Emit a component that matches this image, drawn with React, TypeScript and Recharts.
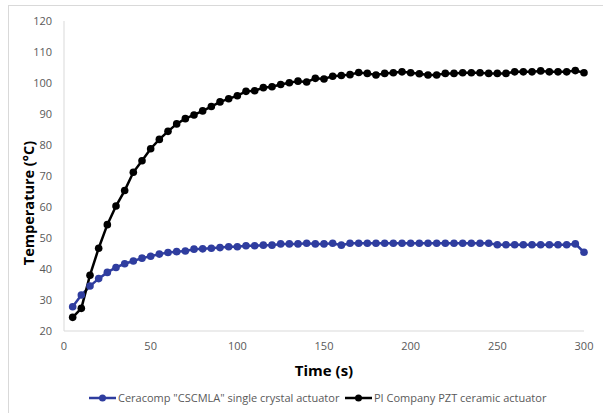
import React from 'react'
import { LineChart, Line, XAxis, YAxis } from 'recharts'

const times = [
  5, 10, 15, 20, 25, 30, 35, 40, 45, 50, 55, 60, 65, 70, 75, 80, 85, 90, 95, 100,
  105, 110, 115, 120, 125, 130, 135, 140, 145, 150, 155, 160, 165, 170, 175, 180, 185, 190, 195, 200,
  205, 210, 215, 220, 225, 230, 235, 240, 245, 250, 255, 260, 265, 270, 275, 280, 285, 290, 295, 300,
]

const ceracomp = [
  27.8, 31.6, 34.5, 36.9, 38.9, 40.5, 41.7, 42.6, 43.5, 44.1, 44.8, 45.3, 45.6, 45.8, 46.4, 46.5, 46.7, 46.9, 47.2, 47.2,
  47.5, 47.5, 47.7, 47.7, 48.1, 48.1, 48.1, 48.3, 48.1, 48.1, 48.3, 47.7, 48.3, 48.3, 48.3, 48.3, 48.3, 48.3, 48.3, 48.3,
  48.3, 48.3, 48.3, 48.3, 48.3, 48.3, 48.3, 48.3, 48.3, 47.8, 47.8, 47.8, 47.8, 47.8, 47.8, 47.8, 47.8, 47.8, 48.1, 45.4,
]

const piPzt = [
  24.4, 27.3, 38.0, 46.7, 54.3, 60.3, 65.3, 71.2, 74.9, 78.8, 81.8, 84.4, 86.8, 88.5, 89.7, 91.0, 92.4, 93.9, 94.9, 95.9,
  97.3, 97.5, 98.5, 98.8, 99.5, 100.1, 100.6, 100.3, 101.5, 101.3, 102.2, 102.4, 102.7, 103.4, 103.1, 102.6, 103.1, 103.3, 103.6, 103.3,
  103.0, 102.6, 102.6, 103.1, 103.1, 103.3, 103.3, 103.3, 103.1, 103.1, 103.1, 103.6, 103.6, 103.6, 103.9, 103.6, 103.6, 103.6, 104.0, 103.3,
]

const xTicks = [0, 50, 100, 150, 200, 250, 300]
const yTicks = [20, 30, 40, 50, 60, 70, 80, 90, 100, 110, 120]

const BLUE = '#2f3d9f'
const BLACK = '#000000'
const GRAY = '#595959'
const FONT = '"Open Sans", "Noto Sans", sans-serif'

const data = times.map((t, i) => ({ time: t, ceracomp: ceracomp[i], pi: piPzt[i] }))

function LegendItem({ color, label }: { color: string; label: string }) {
  return (
    <div style={{ display: 'flex', alignItems: 'center' }}>
      <svg width={27} height={10} style={{ marginRight: 2 }}>
        <line x1={0} y1={5} x2={27} y2={5} stroke={color} strokeWidth={2.5} />
        <circle cx={13.5} cy={5} r={3.5} fill={color} />
      </svg>
      <span style={{ fontFamily: FONT, fontSize: 11, color: GRAY, whiteSpace: 'nowrap' }}>{label}</span>
    </div>
  )
}

export default function App() {
  return (
    <div style={{ position: 'absolute', left: 0, top: 0, width: 603, height: 413, background: '#fff', overflow: 'hidden' }}>
      {/* chart frame (only left and top edges are visible) */}
      <div style={{
        position: 'absolute', left: 8, top: 5, width: 600, height: 420,
        borderLeft: '1px solid #d9d9d9', borderTop: '1px solid #d9d9d9'
      }} />

      <LineChart width={603} height={413} data={data} margin={{ top: 21, right: 19, bottom: 0, left: 0 }}>
        <XAxis
          dataKey="time"
          type="number"
          domain={[0, 300]}
          ticks={xTicks}
          tickLine={false}
          axisLine={{ stroke: '#d9d9d9', strokeWidth: 1 }}
          tick={{ fill: GRAY, fontSize: 11, fontFamily: FONT }}
          tickMargin={5}
          height={82}
        />
        <YAxis
          type="number"
          domain={[20, 120]}
          ticks={yTicks}
          tickLine={false}
          axisLine={{ stroke: '#d9d9d9', strokeWidth: 1 }}
          tick={{ fill: GRAY, fontSize: 11, fontFamily: FONT }}
          tickMargin={6}
          width={64}
        />
        <Line
          dataKey="ceracomp"
          stroke={BLUE}
          strokeWidth={2.5}
          dot={{ r: 3.8, fill: BLUE, stroke: BLUE, strokeWidth: 0 }}
          activeDot={false}
          isAnimationActive={false}
        />
        <Line
          dataKey="pi"
          stroke={BLACK}
          strokeWidth={2.5}
          dot={{ r: 3.8, fill: BLACK, stroke: BLACK, strokeWidth: 0 }}
          activeDot={false}
          isAnimationActive={false}
        />
      </LineChart>

      {/* Axis titles */}
      <div style={{
        position: 'absolute', left: 28, top: 203, transform: 'translate(-50%, -50%) rotate(-90deg)',
        fontFamily: FONT, fontWeight: 700, fontSize: 14.5, color: '#000', whiteSpace: 'nowrap'
      }}>
        Temperature (°C)
      </div>
      <div style={{
        position: 'absolute', left: 324, top: 370, transform: 'translate(-50%, -50%)',
        fontFamily: FONT, fontWeight: 700, fontSize: 15, color: '#000', whiteSpace: 'nowrap'
      }}>
        Time (s)
      </div>

      {/* Legend */}
      <div style={{ position: 'absolute', left: 89, top: 390 }}>
        <LegendItem color={BLUE} label={'Ceracomp "CSCMLA" single crystal actuator'} />
      </div>
      <div style={{ position: 'absolute', left: 345, top: 390 }}>
        <LegendItem color={BLACK} label="PI Company PZT ceramic actuator" />
      </div>
    </div>
  )
}
